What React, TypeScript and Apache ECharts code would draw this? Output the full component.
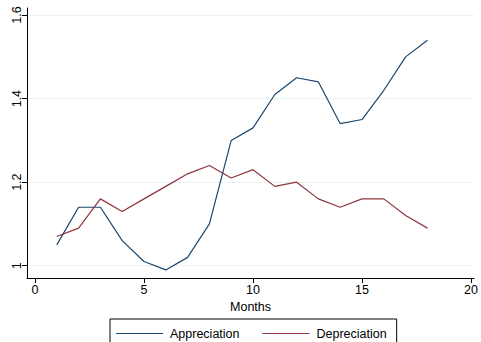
import React, { useEffect, useRef } from "react";
import * as echarts from "echarts";

const months = [1, 2, 3, 4, 5, 6, 7, 8, 9, 10, 11, 12, 13, 14, 15, 16, 17, 18];
const appreciation = [1.05, 1.14, 1.14, 1.06, 1.01, 0.99, 1.02, 1.10, 1.30, 1.33, 1.41, 1.45, 1.44, 1.34, 1.35, 1.42, 1.50, 1.54];
const depreciation = [1.07, 1.09, 1.16, 1.13, 1.16, 1.19, 1.22, 1.24, 1.21, 1.23, 1.19, 1.20, 1.16, 1.14, 1.16, 1.16, 1.12, 1.09];
const xTicks = [0, 5, 10, 15, 20];
const yTicks = [1, 1.2, 1.4, 1.6];

const FONT = "Liberation Sans, Arial, Helvetica, sans-serif";
const FS = 12.5;

export default function App() {
  const ref = useRef<HTMLDivElement>(null);
  useEffect(() => {
    if (!ref.current) return;
    const chart = echarts.init(ref.current, null, { renderer: "svg" });
    chart.setOption({
      animation: false,
      backgroundColor: "#ffffff",
      textStyle: { fontFamily: FONT },
      grid: { left: 27, top: 8, right: 6, bottom: 64, containLabel: false },
      xAxis: {
        type: "value",
        min: -0.366,
        max: 20.137,
        name: "Months",
        nameLocation: "middle",
        nameGap: 22,
        nameTextStyle: { color: "#000", fontSize: FS, fontFamily: FONT },
        axisLine: { show: true, onZero: false, lineStyle: { color: "#000", width: 1 } },
        axisTick: { show: true, length: 5, customValues: xTicks, lineStyle: { color: "#000" } },
        axisLabel: { customValues: xTicks, color: "#000", fontSize: FS, margin: 5, fontFamily: FONT },
        splitLine: { show: false },
      },
      yAxis: {
        type: "value",
        min: 0.9706,
        max: 1.617,
        axisLine: { show: true, onZero: false, lineStyle: { color: "#000", width: 1 } },
        axisTick: { show: true, length: 5, customValues: yTicks, lineStyle: { color: "#000" } },
        axisLabel: {
          customValues: yTicks,
          rotate: 90,
          color: "#000",
          fontSize: FS,
          margin: 4,
          fontFamily: FONT,
          formatter: (v: number) => String(Math.round(v * 10) / 10),
        },
        splitLine: { show: true, customValues: yTicks, lineStyle: { color: "#eaf2f3", width: 1 } },
      },
      legend: {
        left: 110,
        top: 319,
        orient: "horizontal",
        icon: "rect",
        itemWidth: 47,
        itemHeight: 1,
        itemGap: 23,
        padding: [8, 10, 12, 6],
        borderColor: "#000",
        borderWidth: 1,
        textStyle: { color: "#000", fontSize: FS, fontFamily: FONT, padding: [0, 0, 0, 2] },
        data: ["Appreciation", "Depreciation"],
      },
      series: [
        {
          name: "Appreciation",
          type: "line",
          data: months.map((m, i) => [m, appreciation[i]]),
          showSymbol: false,
          symbol: "none",
          clip: false,
          lineStyle: { color: "#1a476f", width: 1.2 },
          itemStyle: { color: "#1a476f" },
        },
        {
          name: "Depreciation",
          type: "line",
          data: months.map((m, i) => [m, depreciation[i]]),
          showSymbol: false,
          symbol: "none",
          clip: false,
          lineStyle: { color: "#90353b", width: 1.2 },
          itemStyle: { color: "#90353b" },
        },
      ],
    });
    return () => chart.dispose();
  }, []);
  return (
    <div
      ref={ref}
      style={{ position: "fixed", left: 0, top: 0, width: 481, height: 342 }}
    />
  );
}
